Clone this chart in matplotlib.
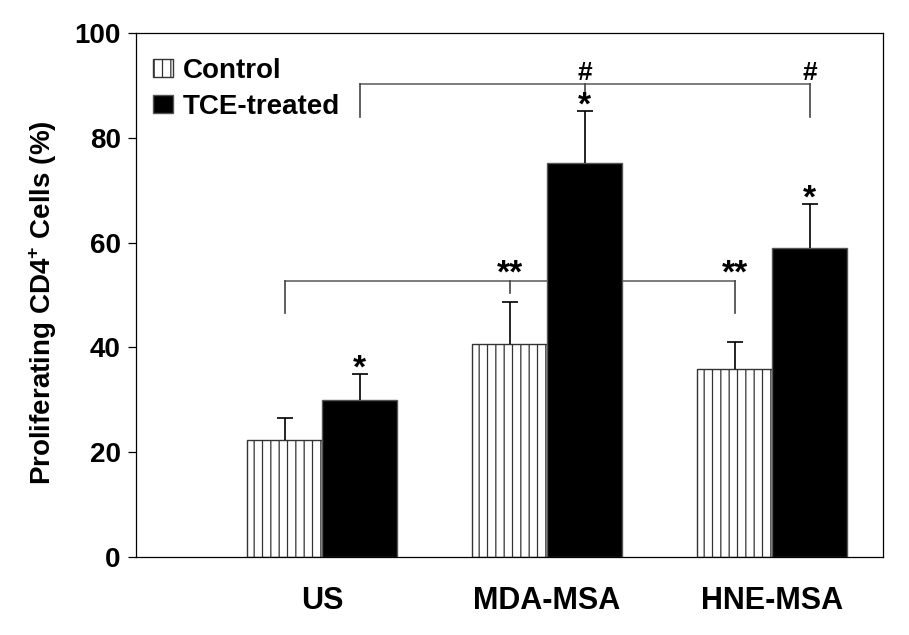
import matplotlib
matplotlib.use("Agg")
import matplotlib.pyplot as plt
import numpy as np

# --- data ---
groups = ["US", "MDA-MSA", "HNE-MSA"]
control = [22.4, 40.6, 35.8]
control_err = [4.1, 8.0, 5.3]
tce = [30.0, 75.1, 58.9]
tce_err = [4.9, 10.0, 8.5]

plt.rcParams["font.family"] = ["Liberation Sans", "DejaVu Sans"]
plt.rcParams["font.weight"] = "bold"
plt.rcParams["mathtext.fontset"] = "custom"
plt.rcParams["mathtext.bf"] = "Liberation Sans:bold"
plt.rcParams["mathtext.rm"] = "Liberation Sans:bold"
plt.rcParams["hatch.linewidth"] = 0.9


def mark(ax, x, y_center, s, size=24):
    # place a glyph so its visual centre sits near y_center
    ax.text(x, y_center, s, ha="center", va="center_baseline",
            fontsize=size, fontweight="bold", zorder=5)


def up_errorbar(ax, xs, vals, errs):
    # only the upper half of each error bar, cap on top only
    zeros = np.zeros(len(vals))
    _, caps, _ = ax.errorbar(xs, vals, yerr=[zeros, errs], fmt="none",
                             ecolor="black", elinewidth=1.2, capsize=6,
                             capthick=1.2, zorder=3)
    caps[0].set_visible(False)


def main():
    fig = plt.figure(figsize=(9.09, 6.35), dpi=100)
    ax = fig.add_axes([0.1496, 0.1228, 0.8218, 0.8252])

    x = np.arange(1, len(groups) + 1)
    w = 1 / 3
    xc = x - w / 2
    xt = x + w / 2

    ax.bar(xc, control, width=w, color="white", edgecolor="#333333",
           hatch="||", linewidth=1.0, zorder=2, label="Control")
    ax.bar(xt, tce, width=w, color="black", edgecolor="#555555",
           linewidth=1.0, zorder=2, label="TCE-treated")

    up_errorbar(ax, xc, control, control_err)
    up_errorbar(ax, xt, tce, tce_err)

    # brackets
    gray = "#666666"
    dark = "#444444"
    # lower: control bars
    ax.plot([xc[0], xc[2]], [52.7, 52.7], color=gray, lw=1.2, zorder=1)
    ax.plot([xc[0], xc[0]], [52.7, 46.5], color=dark, lw=1.2, zorder=1)
    ax.plot([xc[1], xc[1]], [52.7, 50.4], color=dark, lw=1.2, zorder=1)
    ax.plot([xc[2], xc[2]], [52.7, 46.5], color=dark, lw=1.2, zorder=1)
    # upper: TCE bars
    ax.plot([xt[0], xt[2]], [90.2, 90.2], color=gray, lw=1.2, zorder=1)
    ax.plot([xt[0], xt[0]], [90.2, 83.9], color=dark, lw=1.2, zorder=1)
    ax.plot([xt[1], xt[1]], [90.2, 88.6], color=dark, lw=1.2, zorder=1)
    ax.plot([xt[2], xt[2]], [90.2, 83.9], color=dark, lw=1.2, zorder=1)

    # significance marks
    for i in range(len(groups)):
        mark(ax, xt[i], tce[i] + tce_err[i] + 1.6, "*")
    mark(ax, xc[1], 54.6, "**")
    mark(ax, xc[2], 54.6, "**")
    mark(ax, xt[1], 92.9, "#", size=19)
    mark(ax, xt[2], 92.9, "#", size=19)

    ax.set_xlim(0.173, 3.493)
    ax.set_ylim(0, 100)
    ax.set_yticks([0, 20, 40, 60, 80, 100])
    ax.set_xticks(x)
    ax.set_xticklabels(groups, fontsize=22, fontweight="bold")
    ax.tick_params(axis="x", length=0, pad=21)
    ax.tick_params(axis="y", direction="out", length=6, width=0.9,
                   labelsize=20, pad=5)
    for t in ax.get_yticklabels():
        t.set_fontweight("bold")
    for sp in ax.spines.values():
        sp.set_linewidth(0.9)

    fig.text(0.047, 0.524, r"Proliferating CD4$^{\mathbf{+}}$ Cells (%)",
             rotation=90, ha="center", va="center", fontsize=20,
             fontweight="bold")

    ax.legend(loc="upper left", bbox_to_anchor=(0.0228, 0.953),
              frameon=False, handlelength=0.72,
              handleheight=0.65, handletextpad=0.36, labelspacing=0.37,
              borderpad=0, borderaxespad=0,
              prop={"weight": "bold", "size": 20})

    fig.savefig("out.png", dpi=100)


if __name__ == "__main__":
    main()
